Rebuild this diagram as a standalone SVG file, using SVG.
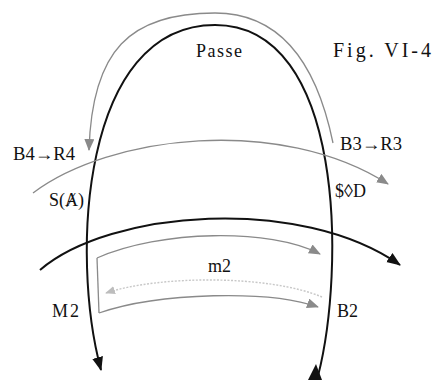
<svg xmlns="http://www.w3.org/2000/svg" width="435" height="380" viewBox="0 0 435 380" font-family="'Liberation Serif', 'DejaVu Serif', serif">
<style>
text{font-family:"Liberation Serif","DejaVu Serif",serif;font-size:18px;fill:#111}
.blk{fill:none;stroke:#111;stroke-width:2}
.gry{fill:none;stroke:#8a8a8a;stroke-width:1.3}
.lgt{fill:none;stroke:#c8c8c8;stroke-width:1.4;stroke-dasharray:2 1.5}
</style>
<defs>
<marker id="ab" markerUnits="userSpaceOnUse" markerWidth="16" markerHeight="12" refX="13" refY="5.5" orient="auto"><path d="M0,0 L14,5.5 L0,11 z" fill="#111"/></marker>
<marker id="ag" markerUnits="userSpaceOnUse" markerWidth="14" markerHeight="12" refX="11" refY="5" orient="auto"><path d="M0,0 L12,5 L0,10 z" fill="#8a8a8a"/></marker>
<marker id="al" markerUnits="userSpaceOnUse" markerWidth="12" markerHeight="10" refX="9" refY="4" orient="auto"><path d="M0,0 L10,4 L0,8 z" fill="#bdbdbd"/></marker>
</defs>
<g id="connectors">
<path id="arch" class="blk" d="M318,376 C345,270 345,25 215,25 C82,25 70,255 101,370" marker-end="url(#ab)"/>
<polygon id="arch-start" points="316,364 322,380 308,380" fill="#111"/>
<path id="passe" class="gry" d="M333,143 C318,70 285,13 215,13 C130,13 92,50 89,150" marker-end="url(#ag)"/>
<path id="sa-sd" class="gry" d="M33,193 C110,135 280,115 388,184" marker-end="url(#ag)"/>
<path id="big" class="blk" d="M40,270 C110,210 300,195 400,265" marker-end="url(#ab)"/>
<path id="box-top" class="gry" d="M97,258 C160,230 270,228 320,254" marker-end="url(#ag)"/>
<path id="box-left" class="gry" d="M97,258 L99,313"/>
<path id="box-bottom" class="gry" d="M99,313 C160,292 270,290 318,307" marker-end="url(#ag)"/>
<path id="m2-line" class="lgt" d="M322,297 C270,275 160,275 106,293" marker-end="url(#al)"/>
</g>
<g id="label-passe"><text x="196" y="57" textLength="46" lengthAdjust="spacing">Passe</text></g>
<g id="label-fig"><text x="333" y="57" style="font-size:20px" textLength="98" lengthAdjust="spacing">Fig. VI-4</text></g>
<g id="label-b4r4"><text x="13" y="160" textLength="62" lengthAdjust="spacingAndGlyphs">B4→R4</text></g>
<g id="label-b3r3"><text x="340" y="150" textLength="62" lengthAdjust="spacingAndGlyphs">B3→R3</text></g>
<g id="label-sa"><text x="49" y="206">S(Ⱥ)</text></g>
<g id="label-sd"><text x="335" y="197">$◊D</text></g>
<g id="label-m2"><text x="208" y="272">m2</text></g>
<g id="label-M2"><text x="52" y="317" textLength="27" lengthAdjust="spacing">M2</text></g>
<g id="label-B2"><text x="337" y="317">B2</text></g>
</svg>
